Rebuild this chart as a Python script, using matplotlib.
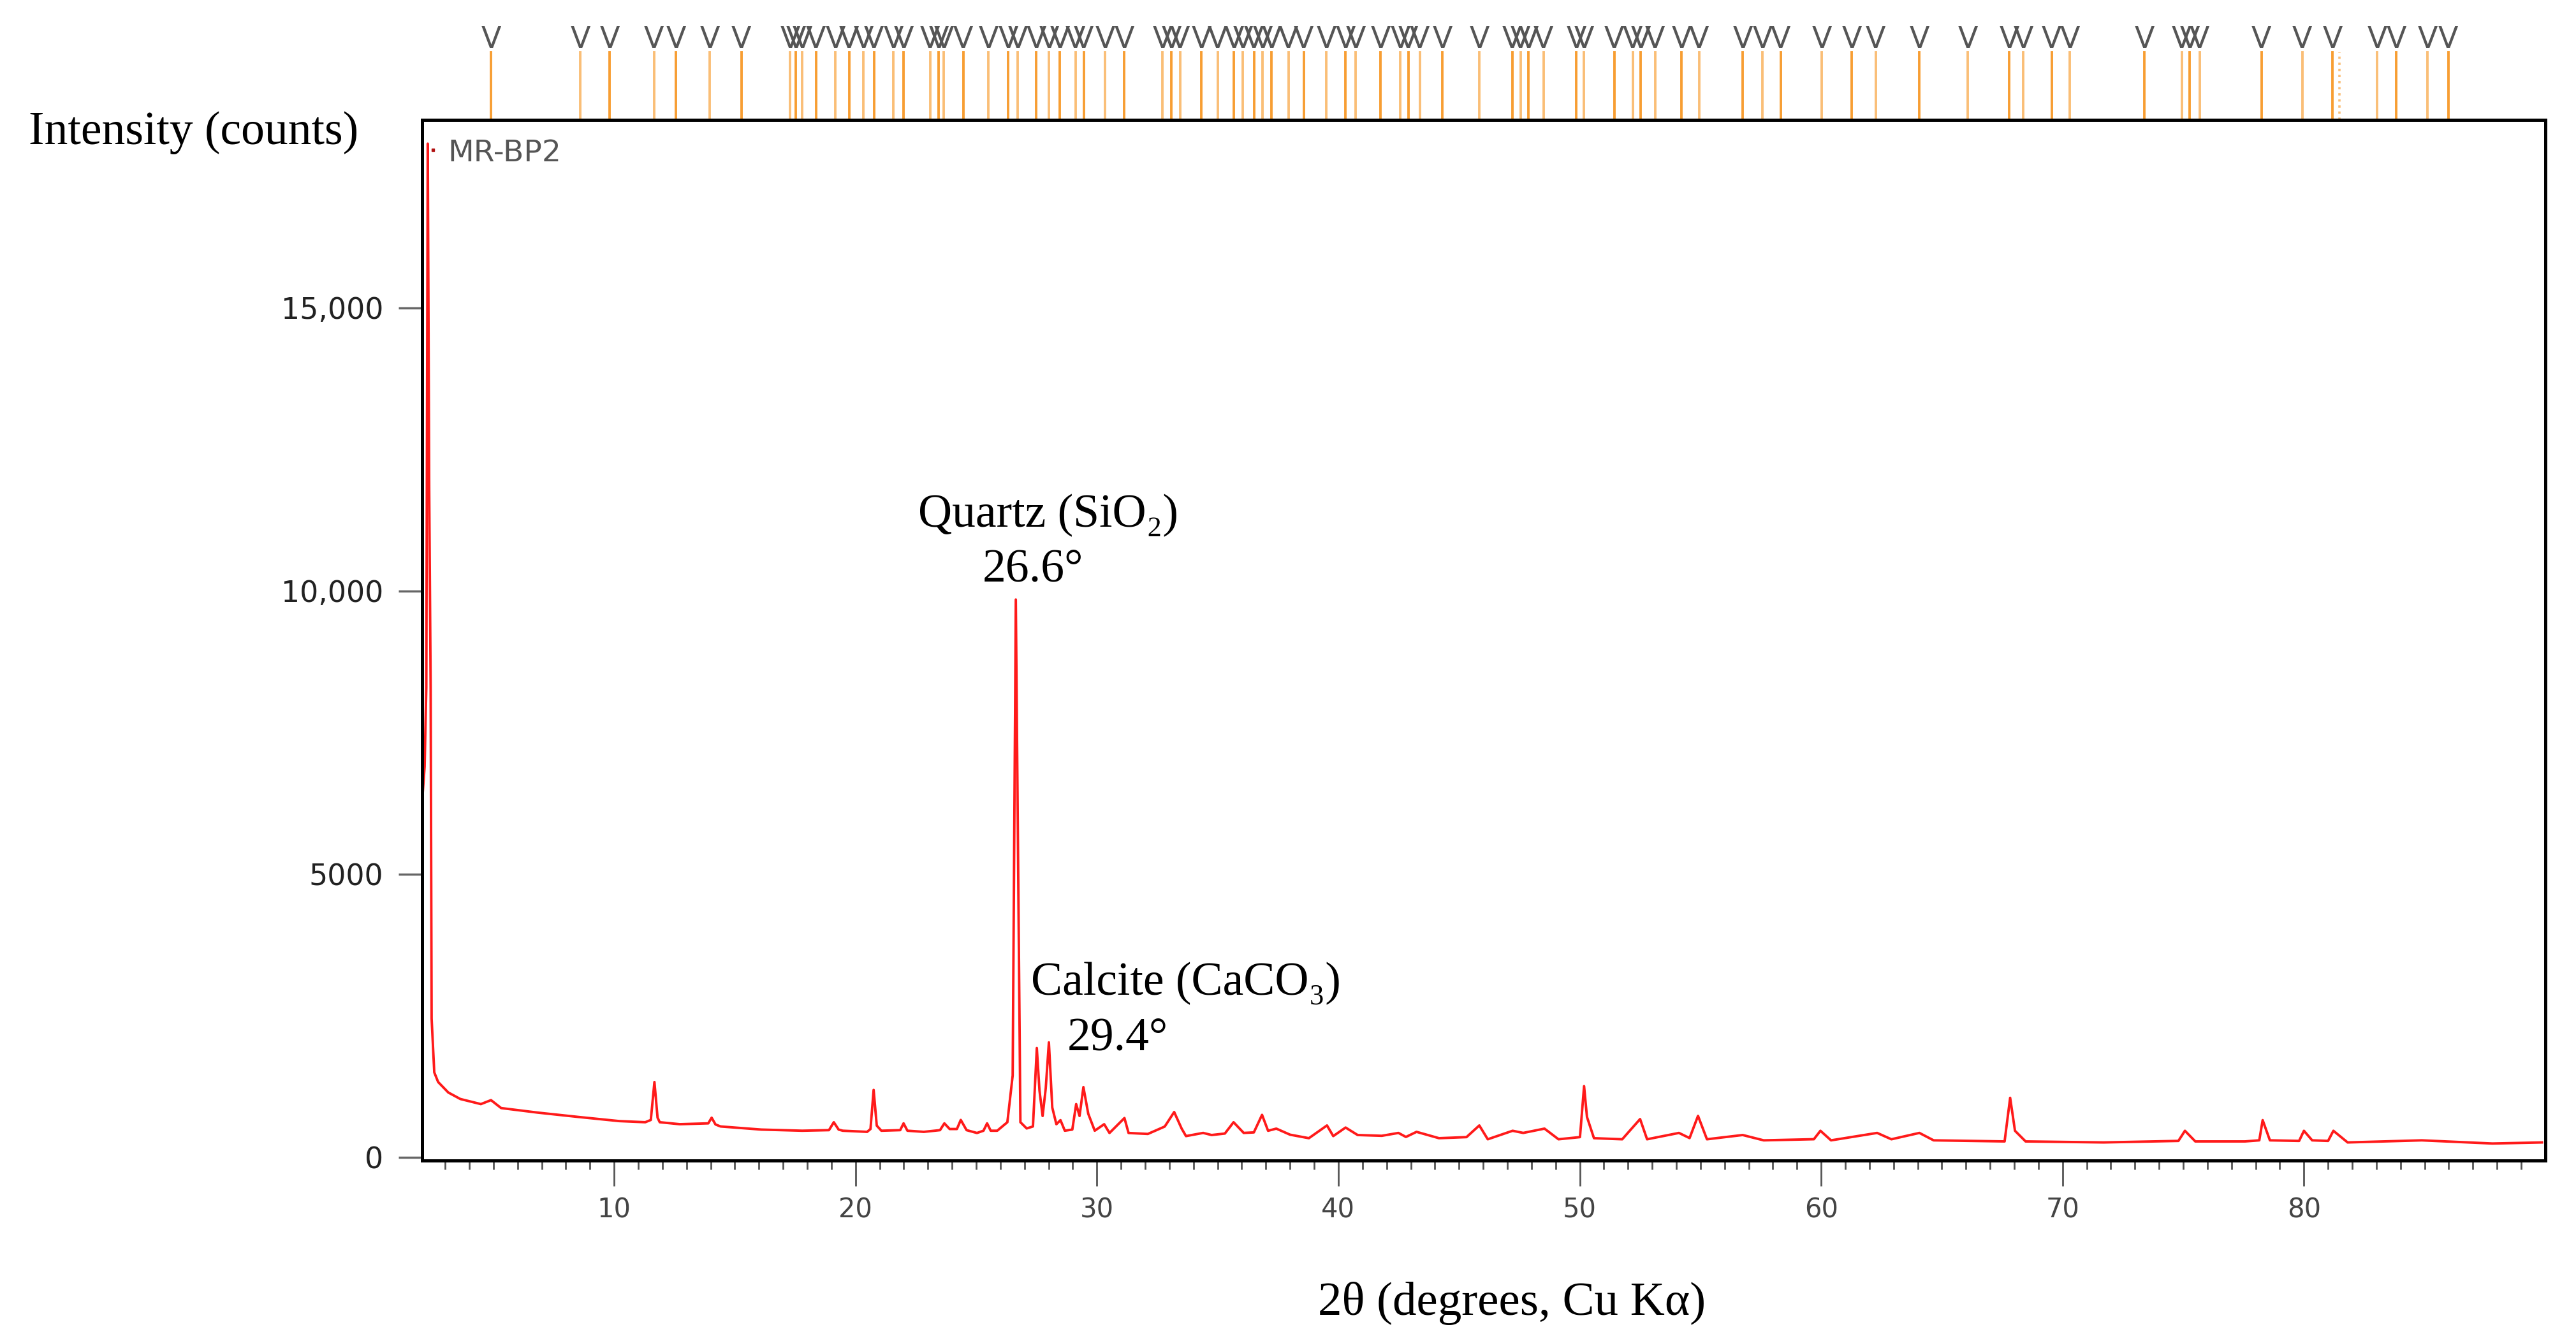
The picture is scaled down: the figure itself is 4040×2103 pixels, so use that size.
import numpy as np
import matplotlib
matplotlib.use("Agg")
import matplotlib.pyplot as plt
from matplotlib.transforms import blended_transform_factory

# XRD trace of sample MR-BP2 (2theta in degrees, counts)
two_theta = [2.05, 2.15, 2.22, 2.28, 2.34, 2.40, 2.44, 2.55, 2.71, 3.13, 3.63, 4.48, 4.90,
             5.32, 6.83, 8.52, 10.21, 11.29, 11.52, 11.67, 11.80, 11.89, 12.72, 13.90,
             14.04, 14.20, 14.41, 16.10, 17.79, 18.90, 19.10, 19.30, 19.47, 20.48, 20.62,
             20.75, 20.88, 21.07, 21.85, 21.99, 22.15, 22.83, 23.50, 23.68, 23.90, 24.20,
             24.36, 24.60, 25.03, 25.30, 25.45, 25.60, 25.87, 26.29, 26.51, 26.64, 26.83,
             27.09, 27.35, 27.51, 27.62, 27.75, 27.88, 28.01, 28.15, 28.32, 28.49, 28.67,
             28.98, 29.14, 29.28, 29.44, 29.64, 29.91, 30.30, 30.52, 31.14, 31.31, 32.11,
             32.81, 33.20, 33.51, 33.69, 34.40, 34.75, 35.30, 35.66, 36.08, 36.50, 36.84,
             37.09, 37.43, 38.00, 38.78, 39.53, 39.79, 40.30, 40.80, 41.80, 42.49, 42.80,
             43.24, 44.17, 45.31, 45.84, 46.19, 47.22, 47.66, 48.10, 48.54, 49.12, 50.01,
             50.18, 50.30, 50.59, 51.76, 52.50, 52.79, 54.11, 54.55, 54.90, 55.27, 56.75,
             57.62, 59.70, 59.97, 60.41, 62.32, 62.91, 64.07, 64.66, 67.60, 67.83, 68.03,
             68.47, 71.70, 74.80, 75.07, 75.50, 77.56, 78.15, 78.29, 78.59, 79.80, 80.00,
             80.34, 81.00, 81.22, 81.81, 84.88, 87.81, 89.86]
counts = [6300, 6900, 8300, 17900, 11800, 8300, 2450, 1500, 1330, 1145, 1030, 940, 1010,
          870, 790, 713, 640, 620, 660, 1330, 700, 620, 585, 600,
          700, 580, 545, 490, 470, 480, 620, 490, 470, 450, 500,
          1190, 560, 470, 480, 600, 470, 450, 480, 600, 500, 500,
          660, 480, 430, 470, 600, 470, 470, 620, 1445, 9850, 620,
          510, 545, 1930, 1180, 730, 1220, 2030, 880, 585, 657, 470,
          490, 940, 730, 1240, 770, 470, 585, 430, 694, 430, 413,
          544, 800, 507, 375, 431, 394, 420, 620, 431, 440, 750,
          469, 507, 400, 338, 563, 375, 526, 394, 380, 431, 360,
          450, 338, 357, 563, 319, 469, 431, 469, 507, 319, 357,
          1257, 713, 338, 319, 676, 319, 431, 340, 732, 319, 394,
          300, 320, 469, 300, 431, 319, 431, 300, 281, 1051, 469,
          281, 263, 290, 469, 281, 281, 300, 657, 300, 290, 469,
          300, 290, 469, 263, 300, 244, 263]

# reference pattern positions shown above the plot
ref_peaks = [4.90, 8.60, 9.81, 11.65, 12.56, 13.97, 15.27, 17.29, 17.53, 17.79, 18.36,
             19.17, 19.73, 20.32, 20.76, 21.57, 21.99, 23.09, 23.45, 23.65, 24.46, 25.51,
             26.32, 26.72, 27.49, 28.02, 28.46, 29.11, 29.45, 30.34, 31.13, 32.71, 33.08,
             33.44, 34.33, 35.00, 35.67, 36.05, 36.51, 36.86, 37.24, 37.93, 38.57, 39.50,
             40.29, 40.72, 41.75, 42.56, 42.90, 43.37, 44.31, 45.85, 47.20, 47.55, 47.87,
             48.50, 49.85, 50.17, 51.43, 52.20, 52.52, 53.12, 54.22, 54.94, 56.76, 57.57,
             58.32, 60.02, 61.27, 62.26, 64.07, 66.08, 67.80, 68.37, 69.55, 70.30, 73.40,
             74.94, 75.26, 75.68, 78.24, 79.93, 81.18, 83.03, 83.82, 85.12, 85.98]
ref_dotted = [81.46]

y_ticks = [0, 5000, 10000, 15000]
y_tick_labels = ["0", "5000", "10,000", "15,000"]
x_ticks = [10, 20, 30, 40, 50, 60, 70, 80]

serif = ["Liberation Serif", "DejaVu Serif"]

fig = plt.figure(figsize=(40.40, 21.03), dpi=100)
ax = fig.add_axes([0.1639, 0.1346, 0.8242, 0.7760])

ax.plot(two_theta, counts, color="#ff1a1a", lw=2.8)

ax.set_xlim(2.05, 90.0)
ax.set_ylim(-56, 18320)

ax.set_xticks(x_ticks)
ax.set_xticks(np.arange(3, 90, 1), minor=True)
ax.set_yticks(y_ticks)
ax.set_yticklabels(y_tick_labels)
ax.tick_params(axis="x", which="major", length=29, width=2, color="#555555",
               labelsize=30, labelcolor="#444444", pad=12)
ax.tick_params(axis="x", which="minor", length=10, width=2, color="#555555")
ax.tick_params(axis="y", which="major", length=27, width=2.5, color="#666666",
               labelsize=33, labelcolor="#222222", pad=17)
for sp in ax.spines.values():
    sp.set_linewidth(3.6)
    sp.set_color("black")

# reference stick markers above the frame
trans = blended_transform_factory(ax.transData, ax.transAxes)
for i, p in enumerate(ref_peaks):
    ax.plot([p, p], [1.0, 1.065], transform=trans, clip_on=False,
            color="#f7941d", alpha=0.9 if i % 2 == 0 else 0.6, lw=2.8)
    ax.text(p, 1.063, "V", transform=trans, ha="center", va="bottom",
            fontsize=33, color="#555555", clip_on=False)
for p in ref_dotted:
    ax.plot([p, p], [1.0, 1.065], transform=trans, clip_on=False,
            color="#f7941d", alpha=0.6, lw=2.6, ls=":")

# sample legend
ax.plot([0.005], [0.971], transform=ax.transAxes, marker="s", ms=3,
        color="#b01010", clip_on=False)
ax.text(0.0121, 0.968, "MR-BP2", transform=ax.transAxes, fontsize=34,
        color="#555555", va="center", ha="left")

# peak annotations
ax.text(27.99, 11136, "Quartz (SiO\u2082)", family=serif, fontsize=53,
        ha="center", va="baseline")
ax.text(27.35, 10168, "26.6\u00b0", family=serif, fontsize=53,
        ha="center", va="baseline")
ax.text(33.69, 2871, "Calcite (CaCO\u2083)", family=serif, fontsize=53,
        ha="center", va="baseline")
ax.text(30.87, 1892, "29.4\u00b0", family=serif, fontsize=53,
        ha="center", va="baseline")

fig.text(0.0111, 0.8925, "Intensity (counts)", family=serif, fontsize=53,
         ha="left", va="baseline")
fig.text(0.587, 0.0195, "2\u03b8 (degrees, Cu K\u03b1)", family=serif, fontsize=54,
         ha="center", va="baseline")

fig.savefig("out.png", dpi=100, facecolor="white")
